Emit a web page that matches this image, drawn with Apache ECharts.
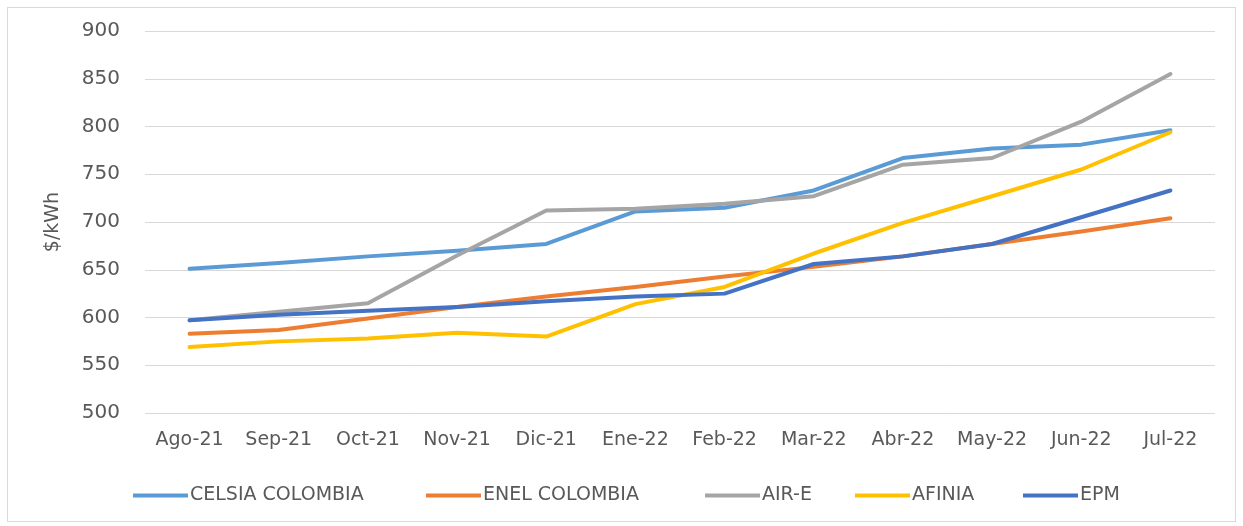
<!DOCTYPE html>
<html>
<head>
<meta charset="utf-8">
<script src="https://cdn.jsdelivr.net/npm/echarts@6/dist/echarts.min.js"></script>
<style>
  html,body{margin:0;padding:0;background:#fff;}
  .frame{position:absolute;left:7px;top:7px;width:1229px;height:515px;border:1px solid #d9d9d9;box-sizing:border-box;}
  #chart{position:absolute;left:0;top:0;width:1243px;height:526px;}
</style>
</head>
<body>
<div class="frame"></div>
<div id="chart"></div>
<script>
// meses
const months=['Ago-21','Sep-21','Oct-21','Nov-21','Dic-21','Ene-22','Feb-22','Mar-22','Abr-22','May-22','Jun-22','Jul-22']
// tarifas $/kWh
const celsia=[651,657,664,670,677,711,715,733,767,777,781,796]
const enel=[583,587,599,611,622,632,643,653,664,677,690,704]
const aire=[597,606,615,665,712,714,719,727,760,767,805,855]
const afinia=[569,575,578,584,580,614,632,667,699,727,755,794]
const epm=[597,603,607,611,617,622,625,656,664,677,705,733]

const names=['CELSIA COLOMBIA','ENEL COLOMBIA','AIR-E','AFINIA','EPM']
const colors=['#5B9BD5','#ED7D31','#A5A5A5','#FFC000','#4472C4']
const values=[celsia,enel,aire,afinia,epm]
const legendLeft=[128,421,700,850,1018]   //posición de cada item de la leyenda

const font='"DejaVu Sans", "Noto Sans", sans-serif'
const chart=echarts.init(document.getElementById('chart'))
chart.setOption({
  animation:false,
  color:colors,
  grid:{left:145,right:28,top:31,bottom:113},
  legend:names.map((n,i)=>({
    left:legendLeft[i],
    top:481,
    icon:'rect',
    itemWidth:55,
    itemHeight:4,
    textStyle:{color:'#595959',fontSize:19,fontFamily:font,padding:[0,0,0,-3]},
    data:[n]
  })),
  xAxis:{
    type:'category',
    data:months,
    boundaryGap:true,
    axisLine:{show:false},
    axisTick:{show:false},
    axisLabel:{color:'#595959',fontSize:19,fontFamily:font,margin:18,interval:0}
  },
  yAxis:{
    type:'value',
    min:500,
    max:900,
    interval:50,
    name:'$/kWh',
    nameLocation:'middle',
    nameGap:82,
    nameRotate:90,
    nameTextStyle:{color:'#595959',fontSize:19,fontFamily:font},
    axisLabel:{color:'#595959',fontSize:20,fontFamily:font,margin:25},
    splitLine:{lineStyle:{color:'#d9d9d9',width:1}}
  },
  series:names.map((n,i)=>({
    name:n,
    type:'line',
    data:values[i],
    symbol:'none',
    lineStyle:{width:4,color:colors[i],cap:'round',join:'round'}
  }))
})
</script>
</body>
</html>
